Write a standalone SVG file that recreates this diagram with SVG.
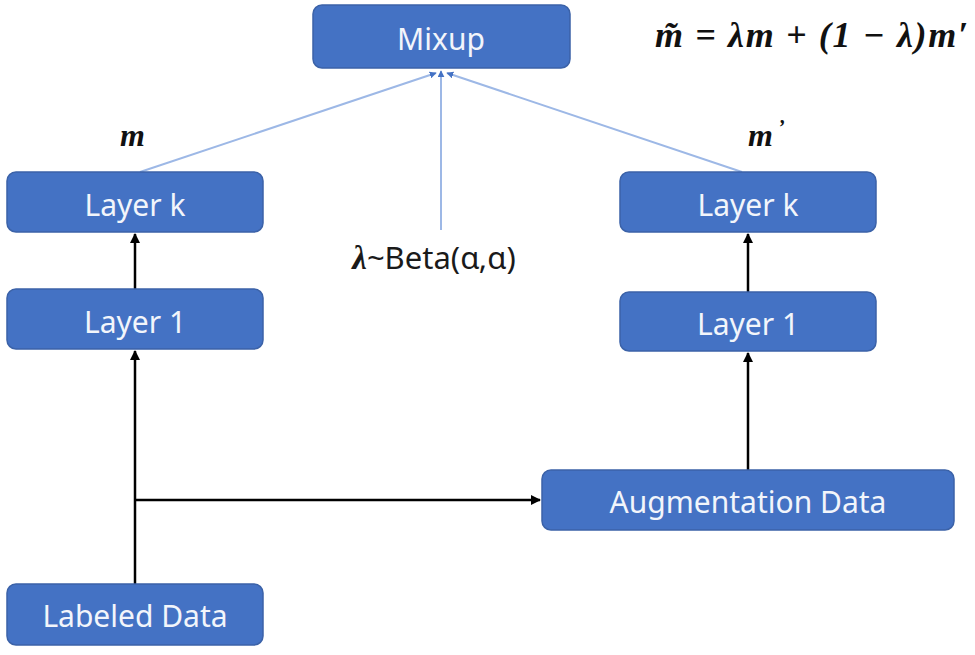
<svg xmlns="http://www.w3.org/2000/svg" width="975" height="655" viewBox="0 0 975 655">
<defs>
<style>
.box{fill:#4472C4;stroke:#3B62A8;stroke-width:1.5}
.lbl{fill:#F2F5FB;font-family:"Noto Sans","Open Sans",sans-serif;font-size:30px;text-anchor:middle;dominant-baseline:central}
.blk{stroke:#000;stroke-width:2.5;fill:none}
.lb{stroke:#9DB8E6;stroke-width:2;fill:none}
.math{font-family:"Liberation Serif",serif;font-style:italic;font-weight:bold;fill:#111}
</style>
<marker id="ak" viewBox="0 0 10 10" refX="9" refY="5" markerWidth="4" markerHeight="4" orient="auto"><path d="M0,0 L10,5 L0,10 z" fill="#000"/></marker>
<marker id="ab" viewBox="0 0 10 10" refX="9" refY="5" markerWidth="7" markerHeight="7" orient="auto" markerUnits="userSpaceOnUse"><path d="M0,0 L10,5 L0,10 z" fill="#4472C4"/></marker>
</defs>
<g id="connectors">
<line class="blk" x1="135" y1="584" x2="135" y2="351" marker-end="url(#ak)"/>
<line class="blk" x1="135" y1="289" x2="135" y2="234" marker-end="url(#ak)"/>
<line class="blk" x1="135" y1="500" x2="540" y2="500" marker-end="url(#ak)"/>
<line class="blk" x1="748" y1="470" x2="748" y2="353" marker-end="url(#ak)"/>
<line class="blk" x1="748" y1="292" x2="748" y2="234" marker-end="url(#ak)"/>
<line class="lb" x1="140" y1="172" x2="436" y2="73" marker-end="url(#ab)"/>
<line class="lb" x1="441" y1="230" x2="441" y2="71" marker-end="url(#ab)"/>
<line class="lb" x1="742" y1="172" x2="447" y2="73" marker-end="url(#ab)"/>
</g>
<g id="mixup"><rect class="box" x="313" y="5" width="257" height="63" rx="9"/><text class="lbl" x="441" y="38">Mixup</text></g>
<g id="left-layer-k"><rect class="box" x="7" y="172" width="256" height="60" rx="9"/><text class="lbl" x="135" y="204">Layer k</text></g>
<g id="left-layer-1"><rect class="box" x="7" y="289" width="256" height="60" rx="9"/><text class="lbl" x="135" y="321">Layer 1</text></g>
<g id="labeled-data"><rect class="box" x="7" y="584" width="256" height="61" rx="9"/><text class="lbl" x="135" y="615">Labeled Data</text></g>
<g id="right-layer-k"><rect class="box" x="620" y="172" width="256" height="60" rx="9"/><text class="lbl" x="748" y="204">Layer k</text></g>
<g id="right-layer-1"><rect class="box" x="620" y="292" width="256" height="59" rx="9"/><text class="lbl" x="748" y="323">Layer 1</text></g>
<g id="augmentation-data"><rect class="box" x="542" y="470" width="412" height="60" rx="9"/><text class="lbl" x="748" y="501">Augmentation Data</text></g>
<g id="labels">
<text class="math" x="120" y="146" font-size="32">m</text>
<text class="math" x="748" y="146" font-size="32">m<tspan font-size="20" dy="-12" dx="5">’</tspan></text>
<text class="math" x="655" y="47" font-size="36" textLength="313" lengthAdjust="spacing">m̃ = λm + (1 − λ)m′</text>
<text x="434" y="269" font-family="'Noto Sans','Open Sans',sans-serif" font-size="31" text-anchor="middle" fill="#1a1a1a"><tspan font-family="'Liberation Serif',serif" font-weight="bold" font-style="italic" font-size="33">λ</tspan>~Beta(α,α)</text>
</g>
</svg>
